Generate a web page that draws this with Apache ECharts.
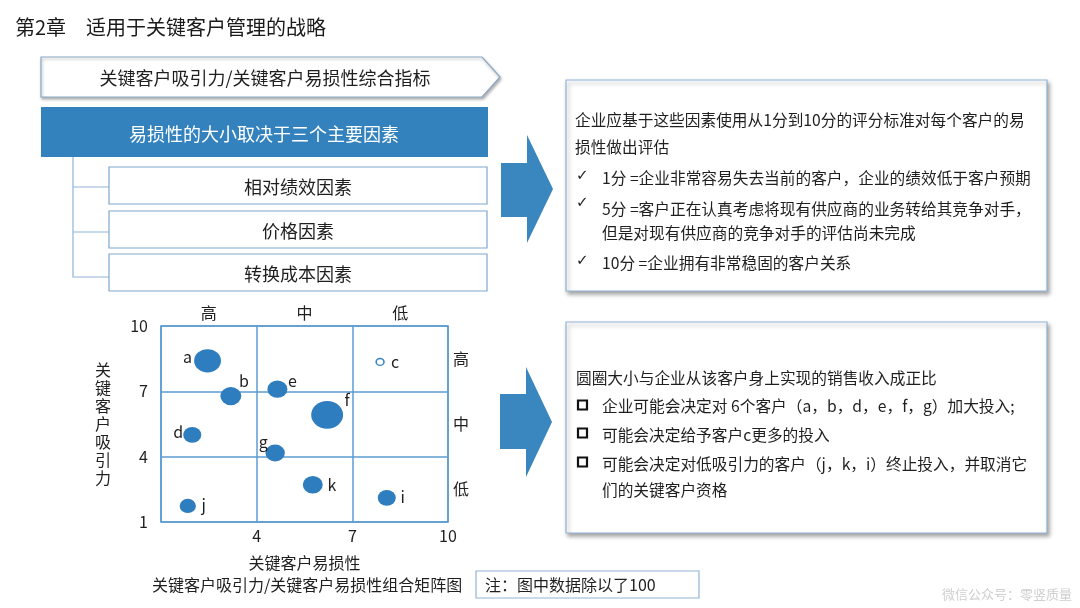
<!DOCTYPE html>
<html>
<head>
<meta charset="utf-8">
<title>关键客户吸引力/关键客户易损性组合矩阵图</title>
<script src="https://cdn.jsdelivr.net/npm/echarts@6/dist/echarts.min.js"></script>
<style>
  html, body { margin: 0; padding: 0; background: #fff; }
  #main { width: 1080px; height: 608px; }
</style>
</head>
<body>
<div id="main"></div>
<script>
// 客户数据（图中数据除以了100）
var customers = ["a", "b", "c", "d", "e", "f", "g", "k", "i", "j"];
var vulnerability = [2.46, 3.19, 7.87, 1.98, 4.65, 6.21, 4.58, 5.76, 8.08, 1.84];
var attractiveness = [8.4, 6.78, 8.35, 5.0, 7.1, 5.92, 4.17, 2.71, 2.11, 1.74];
var revenue = [7.1, 4.3, 0.6, 3.2, 3.9, 10, 3.7, 3.9, 3.2, 2.6];
var colLabels = ["高", "中", "低"];
var rowLabels = ["低", "中", "高"];
var axisMin = 1;
var axisMax = 10;
var axisStep = 3;

var FONT = '"Noto Sans CJK SC", "Noto Sans", sans-serif';
var BLUE = "#3382be";
var LINE = "#5c9bd0";
var BODY = 15.7;

// 标签偏移（只是样式）
var labelOffset = {
  a: [-20, -4], b: [13, -15], c: [15, 0], d: [-14, -3], e: [15, -8],
  f: [20, -15], g: [-12, -11], k: [19, 0], i: [16, -1], j: [16, -1]
};
var hollow = ["c"];

var points = [];
for (var n = 0; n < customers.length; n++) {
  var name = customers[n];
  var isHollow = hollow.indexOf(name) >= 0;
  points.push({
    name: name,
    value: [vulnerability[n], attractiveness[n], revenue[n]],
    itemStyle: isHollow
      ? { color: "#fff", borderColor: "#3a86c4", borderWidth: 1.5, opacity: 1 }
      : { color: "#2e7dbf", opacity: 1 },
    label: { offset: labelOffset[name] }
  });
}

function txt(x, y, text, size, color, align) {
  return {
    type: "text",
    x: x,
    y: y,
    style: {
      text: text,
      font: size + "px " + FONT,
      fill: color || "#1f1f1f",
      textAlign: align || "left",
      textVerticalAlign: "middle"
    }
  };
}

function box(x, y, w, h, fill, stroke, shadow) {
  var s = { fill: fill, stroke: stroke, lineWidth: 1.2 };
  if (shadow) {
    s.shadowBlur = 4;
    s.shadowOffsetX = 2;
    s.shadowOffsetY = 3;
    s.shadowColor = "rgba(0,0,0,0.35)";
  }
  return { type: "rect", shape: { x: x, y: y, width: w, height: h }, style: s };
}

function arrow(x0, yTop, yBot, headTop, headBot, xHead, xTip) {
  var mid = (headTop + headBot) / 2;
  return {
    type: "polygon",
    shape: {
      points: [[x0, yTop], [xHead, yTop], [xHead, headTop], [xTip, mid],
        [xHead, headBot], [xHead, yBot], [x0, yBot]]
    },
    style: { fill: "#3a87c0" }
  };
}

function square(x, y) {
  return {
    type: "rect",
    shape: { x: x, y: y - 4.5, width: 9, height: 9 },
    style: { fill: "none", stroke: "#111", lineWidth: 2.2 }
  };
}

function check(x, y) {
  var t = txt(x, y, "✓", 15, "#222", "left");
  t.style.font = '15px "DejaVu Sans", sans-serif';
  return t;
}

var graphics = [
  txt(15, 27, "第2章　适用于关键客户管理的战略", 20, "#1a1a1a"),
  {
    type: "polygon",
    shape: { points: [[41, 57], [482, 57], [500, 77], [482, 97], [41, 97]] },
    style: {
      fill: "#fff", stroke: "#8aaac6", lineWidth: 1.2,
      shadowBlur: 3, shadowOffsetX: 1, shadowOffsetY: 2, shadowColor: "rgba(0,0,0,0.3)"
    }
  },
  txt(265, 78, "关键客户吸引力/关键客户易损性综合指标", 18, "#1f1f1f", "center"),
  box(41, 107, 447, 50, BLUE, null),
  txt(264, 134, "易损性的大小取决于三个主要因素", 18, "#fff", "center"),
  {
    type: "polyline",
    shape: { points: [[73, 157], [73, 277], [109, 277]] },
    style: { stroke: "#8fb3d6", lineWidth: 1.2, fill: null }
  },
  {
    type: "line",
    shape: { x1: 73, y1: 187, x2: 109, y2: 187 },
    style: { stroke: "#8fb3d6", lineWidth: 1.2 }
  },
  {
    type: "line",
    shape: { x1: 73, y1: 232, x2: 109, y2: 232 },
    style: { stroke: "#8fb3d6", lineWidth: 1.2 }
  },
  box(109, 167, 378, 37, "#fff", "#7fa7d0"),
  box(109, 211, 378, 37, "#fff", "#7fa7d0"),
  box(109, 254, 378, 37, "#fff", "#7fa7d0"),
  txt(298, 187, "相对绩效因素", 18, "#1f1f1f", "center"),
  txt(298, 231, "价格因素", 18, "#1f1f1f", "center"),
  txt(298, 274, "转换成本因素", 18, "#1f1f1f", "center"),

  arrow(501, 163, 217, 135, 243, 527, 553),
  arrow(500, 394, 449, 367, 477, 526, 552),

  // 右上文本框
  box(566, 80, 481, 211, "#fff", "#8fb4d6", true),
  txt(575, 120, "企业应基于这些因素使用从1分到10分的评分标准对每个客户的易", BODY),
  txt(575, 147, "损性做出评估", BODY),
  check(576, 176),
  txt(602, 178, "1分 =企业非常容易失去当前的客户，企业的绩效低于客户预期", BODY),
  check(576, 203),
  txt(602, 209, "5分 =客户正在认真考虑将现有供应商的业务转给其竞争对手，", BODY),
  txt(602, 233, "但是对现有供应商的竞争对手的评估尚未完成", BODY),
  check(576, 261),
  txt(602, 263, "10分 =企业拥有非常稳固的客户关系", BODY),

  // 右下文本框
  box(566, 322, 481, 211, "#fff", "#8fb4d6", true),
  txt(576, 378, "圆圈大小与企业从该客户身上实现的销售收入成正比", BODY),
  square(578, 405),
  txt(602, 406, "企业可能会决定对 6个客户（a，b，d，e，f，g）加大投入;", BODY),
  square(578, 433),
  txt(602, 435, "可能会决定给予客户c更多的投入", BODY),
  square(578, 462),
  txt(602, 464, "可能会决定对低吸引力的客户（j，k，i）终止投入，并取消它", BODY),
  txt(602, 490, "们的关键客户资格", BODY),

  // 图下说明
  txt(152, 585, "关键客户吸引力/关键客户易损性组合矩阵图", 16),
  box(476, 571, 223, 27, "#fff", "#8fb4d6"),
  txt(485, 585, "注：图中数据除以了100", 16),
  txt(1072, 594, "微信公众号：零竖质量", 13, "#cfcfcf", "right")
];

var chart = echarts.init(document.getElementById("main"));
var option = {
  backgroundColor: "#fff",
  animation: false,
  textStyle: { fontFamily: FONT },
  grid: {
    left: 161, top: 326, width: 287, height: 196,
    show: true, borderColor: LINE, borderWidth: 1.5
  },
  xAxis: [
    {
      type: "value",
      min: axisMin, max: axisMax, interval: axisStep,
      name: "关键客户易损性",
      nameLocation: "middle",
      nameGap: 33,
      nameTextStyle: { fontSize: 16, color: "#1f1f1f" },
      axisLine: { show: false },
      axisTick: { show: false },
      axisLabel: { showMinLabel: false, fontSize: 16, color: "#1f1f1f", margin: 6 },
      splitLine: { show: true, lineStyle: { color: LINE, width: 1.5 } }
    },
    {
      type: "category",
      position: "top",
      data: colLabels,
      axisLine: { show: false },
      axisTick: { show: false },
      axisLabel: { fontSize: 16, color: "#1f1f1f", margin: 5 },
      splitLine: { show: false }
    }
  ],
  yAxis: [
    {
      type: "value",
      min: axisMin, max: axisMax, interval: axisStep,
      name: "关\n键\n客\n户\n吸\n引\n力",
      nameLocation: "middle",
      nameGap: 50,
      nameRotate: 0,
      nameTextStyle: { fontSize: 16, color: "#1f1f1f", lineHeight: 18 },
      axisLine: { show: false },
      axisTick: { show: false },
      axisLabel: { fontSize: 16, color: "#1f1f1f", margin: 13 },
      splitLine: { show: true, lineStyle: { color: LINE, width: 1.5 } }
    },
    {
      type: "category",
      position: "right",
      data: rowLabels,
      axisLine: { show: false },
      axisTick: { show: false },
      axisLabel: { fontSize: 16, color: "#1f1f1f", margin: 5 },
      splitLine: { show: false }
    }
  ],
  series: [
    {
      type: "scatter",
      xAxisIndex: 0,
      yAxisIndex: 0,
      data: points,
      symbolSize: function (val) {
        var w = 10.1 * Math.sqrt(val[2]);
        return [w, w * 0.87];
      },
      label: {
        show: true,
        position: "inside",
        formatter: "{b}",
        fontSize: 16,
        color: "#1f1f1f"
      }
    }
  ],
  graphic: { elements: graphics }
};
chart.setOption(option);
window.addEventListener("resize", function () {
  chart.resize();
});
</script>
</body>
</html>
